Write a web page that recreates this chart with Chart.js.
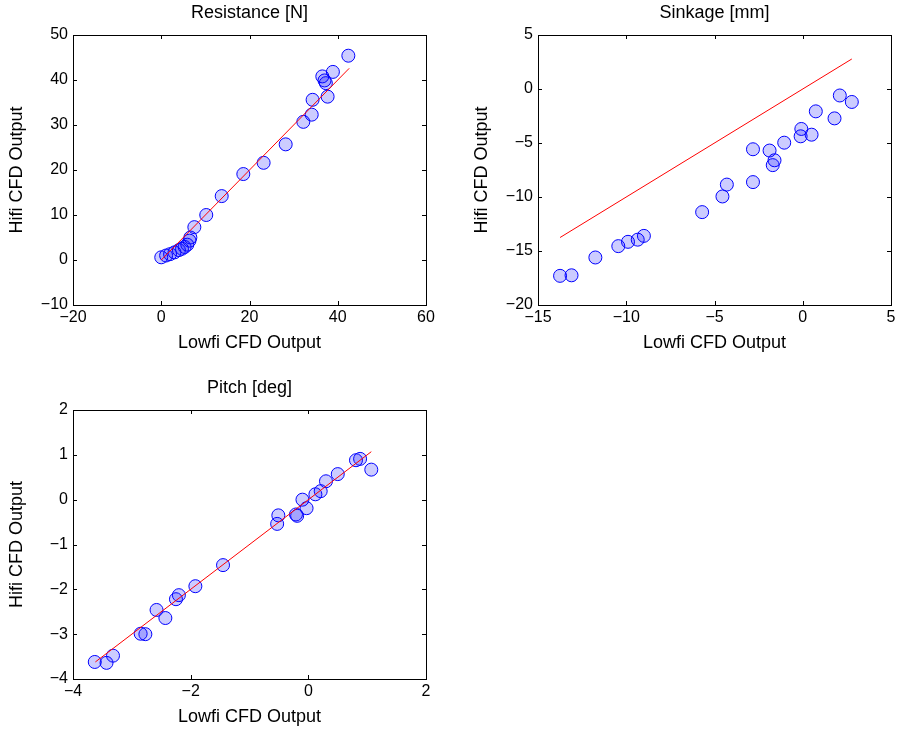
<!DOCTYPE html>
<html>
<head>
<meta charset="utf-8">
<script src="https://cdn.jsdelivr.net/npm/chart.js@4/dist/chart.umd.min.js"></script>
<style>
  body { margin: 0; background: #fff; }
  canvas { position: absolute; }
</style>
</head>
<body>
<canvas id="resChart" width="440" height="360" style="left:0;top:0"></canvas>
<canvas id="sinkChart" width="434" height="360" style="left:465px;top:0"></canvas>
<canvas id="pitchChart" width="440" height="359" style="left:0;top:375px"></canvas>
<script>
// resistance [N]
const resLow = [0, 1.1, 2.0, 3.0, 4.0, 4.7, 5.3, 5.9, 6.4, 6.6, 7.5, 10.2, 13.7, 18.6, 23.2, 28.2, 32.2, 34.1, 34.3, 36.5, 37.0, 37.3, 37.7, 38.9, 42.4];
const resHigh = [0.6, 1.0, 1.3, 1.7, 2.2, 2.5, 2.9, 3.4, 4.3, 5.0, 7.3, 10.0, 14.2, 19.1, 21.6, 25.7, 30.7, 32.3, 35.6, 40.8, 39.9, 39.3, 36.3, 41.8, 45.4];
const resFit = [0, 42.6];

// sinkage [mm]
const sinkLow = [-13.75, -13.1, -11.75, -10.45, -9.9, -9.35, -9.0, -5.7, -4.55, -4.3, -2.82, -2.82, -1.88, -1.6, -1.7, -1.05, -0.12, -0.08, 0.5, 0.74, 1.8, 2.1, 2.78];
const sinkHigh = [-17.3, -17.25, -15.6, -14.55, -14.15, -13.95, -13.6, -11.4, -9.95, -8.85, -8.62, -5.58, -5.7, -6.6, -7.05, -4.97, -4.38, -3.7, -4.23, -2.07, -2.72, -0.6, -1.2];
const sinkFit = [-13.75, 2.78];

// pitch [deg]
const pitchLow = [-3.63, -3.43, -3.32, -2.85, -2.77, -2.58, -2.43, -2.25, -2.2, -1.92, -1.45, -0.53, -0.51, -0.21, -0.19, -0.1, -0.03, 0.12, 0.21, 0.3, 0.5, 0.81, 0.88, 1.07];
const pitchHigh = [-3.62, -3.64, -3.48, -2.99, -3.0, -2.46, -2.64, -2.22, -2.13, -1.93, -1.46, -0.54, -0.35, -0.33, -0.36, 0.0, -0.19, 0.12, 0.19, 0.41, 0.57, 0.88, 0.91, 0.67];
const pitchFit = [-3.62, 1.07];

const font = "'Liberation Sans', Arial, Helvetica, sans-serif";

// matlab style box with inward ticks on all four sides
const boxTicks = {
  id: 'boxTicks',
  afterDraw(chart) {
    const {ctx, chartArea: a, scales} = chart;
    ctx.save();
    ctx.strokeStyle = '#000';
    ctx.lineWidth = 1;
    ctx.beginPath();
    scales.x.ticks.forEach(t => {
      const px = Math.round(scales.x.getPixelForValue(t.value)) + 0.5;
      ctx.moveTo(px, a.bottom); ctx.lineTo(px, a.bottom - 4);
      ctx.moveTo(px, a.top); ctx.lineTo(px, a.top + 4);
    });
    scales.y.ticks.forEach(t => {
      const py = Math.round(scales.y.getPixelForValue(t.value)) + 0.5;
      ctx.moveTo(a.left, py); ctx.lineTo(a.left + 4, py);
      ctx.moveTo(a.right, py); ctx.lineTo(a.right - 4, py);
    });
    ctx.stroke();
    ctx.strokeRect(a.left + 0.5, a.top + 0.5, a.width, a.height);
    ctx.restore();
  }
};

function pairs(xs, ys) {
  return xs.map((x, i) => ({x: x, y: ys[i]}));
}

function makeChart(id, title, low, high, fit, xr, yr, padRight, xHeight) {
  const minus = v => String(v).replace('-', '\u2212');
  return new Chart(document.getElementById(id), {
    type: 'scatter',
    data: {
      datasets: [{
        data: fit.map(v => ({x: v, y: v})),
        type: 'line',
        borderColor: '#ff0000',
        borderWidth: 1,
        pointRadius: 0,
        fill: false,
        order: 0
      }, {
        data: pairs(low, high),
        pointRadius: 6.5,
        borderWidth: 1,
        borderColor: '#0000ff',
        backgroundColor: 'rgba(0,0,255,0.2)',
        order: 1
      }]
    },
    options: {
      responsive: false,
      animation: false,
      devicePixelRatio: 1,
      layout: { padding: { left: 0, right: padRight, top: 0, bottom: 0 } },
      plugins: {
        legend: { display: false },
        tooltip: { enabled: false },
        title: {
          display: true,
          text: title,
          fullSize: false,
          color: '#000',
          font: { family: font, size: 18, weight: 'normal' },
          padding: { top: 2, bottom: 11.4 }
        }
      },
      scales: {
        x: {
          type: 'linear',
          min: xr[0], max: xr[1],
          ticks: { stepSize: xr[2], color: '#000', padding: 3, font: { family: font, size: 16 }, callback: minus },
          grid: { display: false, drawTicks: false },
          border: { display: false },
          title: { display: true, text: 'Lowfi CFD Output', color: '#000', font: { family: font, size: 18 }, padding: { top: 0, bottom: 6 } },
          afterFit: s => { s.height = xHeight; }
        },
        y: {
          type: 'linear',
          min: yr[0], max: yr[1],
          ticks: { stepSize: yr[2], color: '#000', padding: 5, font: { family: font, size: 16 }, callback: minus },
          grid: { display: false, drawTicks: false },
          border: { display: false },
          title: { display: true, text: 'Hifi CFD Output', color: '#000', font: { family: font, size: 18 }, padding: { top: 6.4, bottom: 0 } },
          afterFit: s => { s.width = 73; }
        }
      }
    },
    plugins: [boxTicks]
  });
}

makeChart('resChart', 'Resistance [N]', resLow, resHigh, resFit, [-20, 60, 20], [-10, 50, 10], 14, 55);
makeChart('sinkChart', 'Sinkage [mm]', sinkLow, sinkHigh, sinkFit, [-15, 5, 5], [-20, 5, 5], 8, 55);
makeChart('pitchChart', 'Pitch [deg]', pitchLow, pitchHigh, pitchFit, [-4, 2, 2], [-4, 2, 1], 14, 55);
</script>
</body>
</html>
